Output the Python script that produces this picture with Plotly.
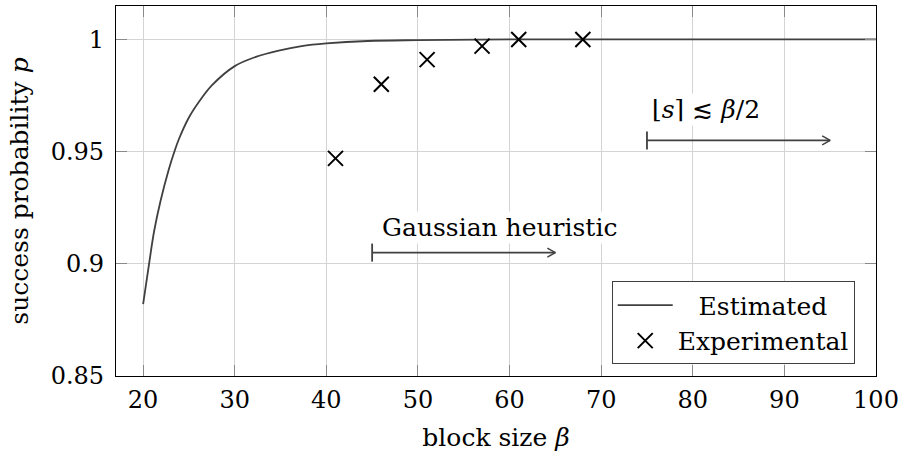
import plotly.graph_objects as go

# ---- data ----
est_x = [20, 20.65, 21.2, 21.9, 22.8, 23.4, 23.9, 25, 26.1, 27.5, 30, 32.3, 34.8,
         37.3, 40, 44.5, 50, 60, 70, 80, 90, 100]
est_y = [0.882, 0.900, 0.9145, 0.928, 0.9420, 0.9498, 0.9555, 0.9652, 0.9722, 0.9795,
         0.9881, 0.9922, 0.9950, 0.9970, 0.9982, 0.9993, 0.9997, 1.0, 1.0, 1.0, 1.0, 1.0]

exp_x = [41, 46, 51, 57, 61, 68]
exp_y = [0.947, 0.980, 0.991, 0.997, 1.0, 1.0]

x_ticks = [20, 30, 40, 50, 60, 70, 80, 90, 100]
y_ticks = [0.85, 0.9, 0.95, 1.0]
y_ticklabels = ["0.85", "0.9", "0.95", "1"]

arrow_start = [45, 75]
arrow_end = [65, 95]
arrow_y = [0.905, 0.955]
arrow_labels = ["Gaussian heuristic", "⌊<i>s</i>⌉ ≲ <i>β</i>/2"]
label_x = [45.9, 75.35]
label_y = [0.9161, 0.9686]

FONT = "DejaVu Serif"
TS = 25   # text size
KS = 24   # tick label size
DARK = "#404040"
NB = "\u00a0"

fig = go.Figure()
fig.add_trace(go.Scatter(
    x=est_x, y=est_y, mode="lines", name=NB * 2 + "\u2009" + "Estimated",
    line=dict(color=DARK, width=1.8, shape="spline", smoothing=1.0),
))
fig.add_trace(go.Scatter(
    x=exp_x, y=exp_y, mode="markers", name="Experimental",
    marker=dict(symbol="x-thin", size=15, line=dict(color="black", width=2)),
))

shapes = []
for xs, xe, ya in zip(arrow_start, arrow_end, arrow_y):
    shapes.append(dict(type="line", xref="x", yref="y", x0=xs, x1=xe, y0=ya, y1=ya,
                       line=dict(color=DARK, width=1.8)))
    shapes.append(dict(type="line", xref="x", yref="y", x0=xs, x1=xs,
                       ysizemode="pixel", yanchor=ya, y0=-9, y1=9,
                       line=dict(color=DARK, width=1.8)))
    for dy in (4.5, -4.5):
        shapes.append(dict(type="line", xref="x", yref="y",
                           xsizemode="pixel", xanchor=xe, x0=-8, x1=0,
                           ysizemode="pixel", yanchor=ya, y0=dy, y1=0,
                           line=dict(color=DARK, width=1.5)))

annotations = []
for lx, ly, txt in zip(label_x, label_y, arrow_labels):
    annotations.append(dict(x=lx, y=ly, xref="x", yref="y", text=txt, showarrow=False,
                            xanchor="left", yanchor="middle", bgcolor="white",
                            font=dict(family=FONT, size=TS, color="black")))

axis_common = dict(
    showgrid=True, gridcolor="#d4d4d4", gridwidth=1,
    showline=True, linecolor="black", linewidth=1.2, mirror="allticks",
    ticks="inside", ticklen=11, tickcolor="#8a8a8a", tickwidth=1.2,
    zeroline=False, tickfont=dict(family=FONT, size=KS, color="black"),
    ticklabeloverflow="allow",
)

fig.update_layout(
    width=904, height=456,
    margin=dict(l=116, r=23, t=5, b=80),
    paper_bgcolor="white", plot_bgcolor="white",
    font=dict(family=FONT, size=TS, color="black"),
    showlegend=True,
    legend=dict(x=0.972, y=0.0315, xanchor="right", yanchor="bottom",
                bordercolor=DARK, borderwidth=1, bgcolor="white",
                font=dict(family=FONT, size=TS, color="black"),
                tracegroupgap=0, itemwidth=55),
    shapes=shapes, annotations=annotations,
)
fig.update_xaxes(range=[17.04, 100], tickvals=x_ticks,
                 title=dict(text="block size <i>β</i>", standoff=15,
                            font=dict(family=FONT, size=TS)),
                 ticklabelstandoff=2, **axis_common)
fig.update_yaxes(range=[0.85, 1.0149], tickvals=y_ticks, ticktext=y_ticklabels,
                 title=dict(text="success probability <i>p</i>", standoff=14,
                            font=dict(family=FONT, size=TS)),
                 ticklabelstandoff=6, **axis_common)

fig.write_html("out.html")
